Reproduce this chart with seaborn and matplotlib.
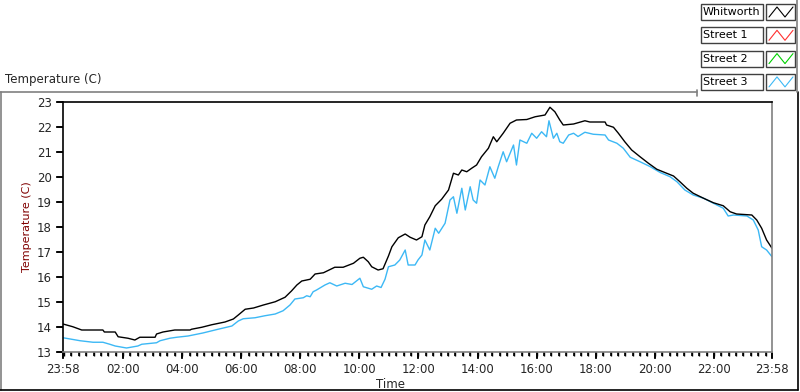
import pandas as pd
import matplotlib
matplotlib.use("Agg")
import matplotlib.pyplot as plt
from matplotlib.lines import Line2D
import seaborn as sns

# Whitworth (black) - clock time, temperature
whit_time = ["23:58", "00:18", "00:36", "01:19", "01:22", "01:44", "01:50", "02:10", "02:24", "02:34",
             "03:05", "03:08", "03:21", "03:45", "04:16", "04:19", "04:40", "05:00", "05:27", "05:44",
             "05:54", "06:08", "06:25", "06:45", "07:09", "07:29", "07:42", "07:53", "08:03", "08:20",
             "08:30", "08:47", "09:10", "09:27", "09:48", "10:01", "10:08", "10:18", "10:25", "10:38",
             "10:48", "10:59", "11:06", "11:19", "11:33", "11:43", "11:56", "12:07", "12:13", "12:23",
             "12:34", "12:47", "13:01", "13:11", "13:21", "13:28", "13:38", "13:48", "13:58", "14:08",
             "14:22", "14:32", "14:39", "14:52", "15:06", "15:19", "15:40", "15:57", "16:17", "16:27",
             "16:37", "16:47", "16:54", "17:15", "17:38", "17:48", "18:19", "18:22", "18:36", "18:46",
             "18:59", "19:13", "19:30", "19:47", "20:04", "20:24", "20:38", "20:51", "21:05", "21:18",
             "21:39", "21:59", "22:19", "22:33", "22:46", "23:17", "23:27", "23:37", "23:47", "23:58"]
whit_temp = [14.12, 14.01, 13.88, 13.88, 13.80, 13.80, 13.61, 13.55, 13.48, 13.59,
             13.59, 13.72, 13.80, 13.88, 13.88, 13.91, 13.99, 14.09, 14.20, 14.32,
             14.48, 14.71, 14.76, 14.88, 15.01, 15.19, 15.44, 15.68, 15.84, 15.91,
             16.12, 16.17, 16.39, 16.39, 16.55, 16.75, 16.79, 16.61, 16.41, 16.28,
             16.33, 16.84, 17.21, 17.57, 17.72, 17.59, 17.48, 17.61, 18.08, 18.41,
             18.85, 19.11, 19.48, 20.15, 20.08, 20.28, 20.21, 20.35, 20.48, 20.81,
             21.15, 21.61, 21.41, 21.75, 22.15, 22.28, 22.30, 22.41, 22.48, 22.79,
             22.61, 22.28, 22.08, 22.12, 22.25, 22.20, 22.20, 22.08, 21.99, 21.75,
             21.41, 21.08, 20.81, 20.55, 20.31, 20.15, 20.04, 19.81, 19.55, 19.35,
             19.15, 18.97, 18.85, 18.61, 18.52, 18.48, 18.28, 17.95, 17.48, 17.15]

# Street 3 (light blue)
st3_time = ["23:58", "00:33", "00:59", "01:19", "01:33", "01:44", "02:07", "02:30", "02:38", "03:08",
            "03:15", "03:35", "03:49", "04:12", "04:42", "05:13", "05:41", "05:54", "06:04", "06:28",
            "06:48", "07:09", "07:25", "07:39", "07:49", "08:06", "08:13", "08:20", "08:26", "08:33",
            "08:50", "09:00", "09:14", "09:31", "09:45", "10:01", "10:08", "10:25", "10:35", "10:44",
            "10:52", "10:59", "11:12", "11:22", "11:33", "11:39", "11:53", "11:59", "12:07", "12:13",
            "12:23", "12:34", "12:41", "12:54", "13:04", "13:11", "13:18", "13:28", "13:35", "13:45",
            "13:51", "13:58", "14:05", "14:15", "14:25", "14:35", "14:42", "14:52", "14:59", "15:13",
            "15:19", "15:26", "15:40", "15:50", "16:00", "16:10", "16:20", "16:25", "16:34", "16:41",
            "16:47", "16:54", "17:05", "17:15", "17:24", "17:38", "17:55", "18:19", "18:26", "18:43",
            "18:56", "19:10", "19:30", "19:51", "20:11", "20:31", "20:45", "21:01", "21:18", "21:39",
            "21:59", "22:19", "22:29", "22:40", "23:07", "23:20", "23:30", "23:37", "23:47", "23:58"]
st3_temp = [13.57, 13.45, 13.39, 13.39, 13.31, 13.24, 13.16, 13.24, 13.31, 13.37,
            13.45, 13.55, 13.59, 13.64, 13.76, 13.91, 14.04, 14.24, 14.33, 14.37,
            14.45, 14.52, 14.65, 14.88, 15.12, 15.17, 15.25, 15.21, 15.41, 15.48,
            15.68, 15.77, 15.64, 15.75, 15.70, 15.95, 15.61, 15.51, 15.64, 15.58,
            15.91, 16.41, 16.48, 16.68, 17.08, 16.48, 16.48, 16.68, 16.88, 17.48,
            17.08, 17.95, 17.75, 18.15, 19.08, 19.21, 18.55, 19.55, 18.68, 19.61,
            19.08, 18.95, 19.88, 19.68, 20.41, 19.95, 20.41, 21.01, 20.61, 21.28,
            20.48, 21.48, 21.35, 21.75, 21.55, 21.81, 21.61, 22.25, 21.55, 21.75,
            21.41, 21.35, 21.68, 21.75, 21.62, 21.79, 21.71, 21.68, 21.48, 21.35,
            21.15, 20.79, 20.61, 20.41, 20.18, 20.01, 19.81, 19.48, 19.28, 19.15,
            18.95, 18.75, 18.44, 18.48, 18.44, 18.28, 17.88, 17.21, 17.08, 16.81]

series_names = ["Whitworth", "Street 1", "Street 2", "Street 3"]
series_colors = ["#000000", "#ff3030", "#00d000", "#3cb8f5"]
x_tick_labels = ["23:58", "02:00", "04:00", "06:00", "08:00", "10:00", "12:00",
                 "14:00", "16:00", "18:00", "20:00", "22:00", "23:58"]
y_ticks = list(range(13, 24))

base = pd.Timestamp("2000-01-01")


def to_stamp(clock, i):
    # first sample is the previous evening, the rest fall on the next day
    h, m = map(int, clock.split(":"))
    return base + pd.Timedelta(days=0 if i == 0 else 1, hours=h, minutes=m)


def stamps(times):
    return [to_stamp(t, i) for i, t in enumerate(times)]


df = pd.concat([
    pd.DataFrame({"Time": stamps(whit_time), "Temp": whit_temp, "Series": "Whitworth"}),
    pd.DataFrame({"Time": stamps(st3_time), "Temp": st3_temp, "Series": "Street 3"}),
])

sns.set_style("ticks")
plt.rcParams["font.family"] = ["DejaVu Sans"]
plt.rcParams["font.size"] = 8

fig = plt.figure(figsize=(8, 3.92), dpi=100)
ax = fig.add_axes([63 / 800, 1 - 352 / 392, 709 / 800, 250 / 392])

sns.lineplot(data=df, x="Time", y="Temp", hue="Series",
             palette={"Whitworth": series_colors[0], "Street 3": series_colors[3]},
             hue_order=["Street 3", "Whitworth"], linewidth=1.0, legend=False,
             estimator=None, sort=False, ax=ax)

x_start = to_stamp("23:58", 0)
x_end = to_stamp("23:58", 1)
ax.set_xlim(x_start, x_end)
ax.set_ylim(13, 23)

major = [x_start] + [base + pd.Timedelta(days=1, hours=h) for h in range(2, 24, 2)] + [x_end]
minor = list(pd.date_range(base + pd.Timedelta(days=1), x_end, freq="15min"))
ax.set_xticks(major)
ax.set_xticklabels(x_tick_labels, fontsize=8.5)
ax.set_xticks(minor, minor=True)
ax.set_yticks(y_ticks)
ax.set_yticklabels([str(v) for v in y_ticks], fontsize=8.5)
ax.set_xlabel("")
ax.set_ylabel("Temperature (C)", color="#800000", fontsize=8)
ax.yaxis.set_label_coords(-(63 - 32) / 709, 0.5)

for side in ["left", "top"]:
    ax.spines[side].set_color("black")
    ax.spines[side].set_linewidth(1.2)
for side in ["right", "bottom"]:
    ax.spines[side].set_color("#808080")
    ax.spines[side].set_linewidth(1.2)

ax.tick_params(axis="both", which="major", direction="out", length=5, width=1.2,
               color="black", pad=3)
ax.tick_params(axis="x", which="minor", direction="out", length=3, width=1.2,
               color="black")

# LabVIEW-style scale marks, drawn at the tick positions so they always show
xt = ax.get_xaxis_transform()
yt = ax.get_yaxis_transform()
ax.vlines(major, -6 / 250, 0, transform=xt, colors="black", lw=1.2, clip_on=False)
ax.vlines(minor, -3.5 / 250, 0, transform=xt, colors="black", lw=1.0, clip_on=False)
ax.hlines(y_ticks, -6 / 709, 0, transform=yt, colors="black", lw=1.2, clip_on=False)

fig.text(390 / 800, 1 - 384 / 392, "Time", ha="center", va="center", fontsize=8.5)
fig.text(5 / 800, 1 - 80 / 392, "Temperature (C)", ha="left", va="center", fontsize=8.5)

# frame of the graph panel
fig.add_artist(Line2D([0, 697 / 800], [1 - 92 / 392] * 2, color="#808080", lw=1.2))
fig.add_artist(Line2D([1 / 800] * 2, [1 - 92 / 392, 1 - 390 / 392], color="#808080", lw=1.2))
fig.add_artist(Line2D([0, 798 / 800], [1 - 390 / 392] * 2, color="black", lw=1.2))
fig.add_artist(Line2D([798 / 800] * 2, [1 - 92 / 392, 1 - 390 / 392], color="black", lw=1.2))
fig.add_artist(Line2D([797 / 800] * 2, [1.0, 1 - 92 / 392], color="#808080", lw=1.2))
fig.add_artist(Line2D([697 / 800] * 2, [1 - 90 / 392, 1 - 96 / 392], color="#808080", lw=1.2))

# plot legend, LabVIEW style
for i, (name, col) in enumerate(zip(series_names, series_colors)):
    yc = 12 + i * 23.3
    fig.patches.append(plt.Rectangle((701 / 800, 1 - (yc + 8) / 392), 62 / 800, 16 / 392,
                                     transform=fig.transFigure, fc="white",
                                     ec="#404040", lw=1.0, figure=fig))
    fig.text(703 / 800, 1 - yc / 392, name, ha="left", va="center", fontsize=8,
             color="black")
    fig.patches.append(plt.Rectangle((766 / 800, 1 - (yc + 8) / 392), 29 / 800, 16 / 392,
                                     transform=fig.transFigure, fc="white",
                                     ec="#404040", lw=1.0, figure=fig))
    zx = [769, 777, 785, 793]
    zy = [yc + 5, yc - 5, yc + 5, yc - 5]
    fig.add_artist(Line2D([v / 800 for v in zx], [1 - v / 392 for v in zy], color=col, lw=0.8))

fig.savefig("out.png", dpi=100)
